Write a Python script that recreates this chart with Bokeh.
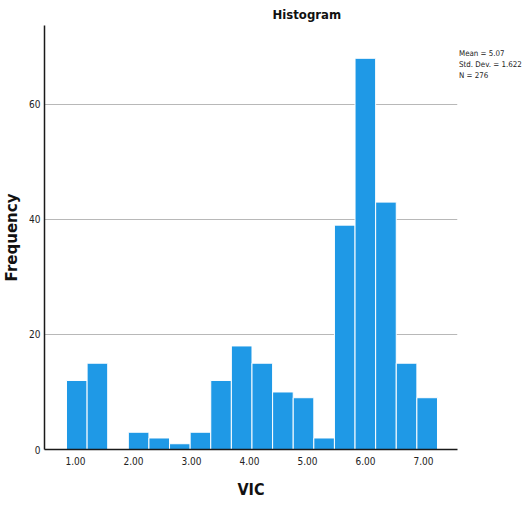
import numpy as np
from bokeh.plotting import figure
from bokeh.models import (FixedTicker, Title, Range1d, ColumnDataSource,
                          CustomJSTickFormatter, Legend, LegendItem)
from bokeh.core.properties import value
from bokeh.embed import file_html
from bokeh.resources import INLINE

# ---- data ----
counts = [12, 15, 0, 3, 2, 1, 3, 12, 18, 15, 10, 9, 2, 39, 68, 43, 15, 9]
bin_first_edge = 0.845
bin_last_edge = 7.241
x_ticks = [1, 2, 3, 4, 5, 6, 7]
y_ticks = [0, 20, 40, 60]
stats_lines = ["Mean = 5.07", "Std. Dev. = 1.622", "N = 276"]
title_text = "Histogram"
x_label = "VIC"
y_label = "Frequency"

edges = np.linspace(bin_first_edge, bin_last_edge, len(counts) + 1)
left = [edges[i] for i in range(len(counts)) if counts[i] > 0]
right = [edges[i + 1] for i in range(len(counts)) if counts[i] > 0]
top = [c for c in counts if c > 0]
src = ColumnDataSource(dict(left=left, right=right, top=top, bottom=[0] * len(top)))

COND = "DejaVu Sans Condensed"

p = figure(frame_width=413, frame_height=424, output_backend="svg", toolbar_location=None,
           x_range=Range1d(0.466, 7.586), y_range=Range1d(0, 73.7),
           min_border_left=36, min_border_right=0, min_border_top=19,
           min_border_bottom=0)
p.outline_line_color = None
p.background_fill_color = "white"
p.border_fill_color = "white"

p.quad(left="left", right="right", top="top", bottom="bottom", source=src,
       fill_color="#1f99e6", line_color="white", line_width=1)

# grid
p.xgrid.visible = False
p.ygrid.ticker = FixedTicker(ticks=[20, 40, 60])
p.ygrid.grid_line_color = "#b8b8b8"
p.ygrid.grid_line_width = 1.2

# axes
for ax in (p.xaxis[0], p.yaxis[0]):
    ax.major_tick_in = 0
    ax.major_tick_out = 0
    ax.minor_tick_in = 0
    ax.minor_tick_out = 0
    ax.axis_line_color = "#1a1a1a"
    ax.axis_line_width = 1.5
    ax.major_label_text_font = COND
    ax.major_label_text_font_size = "10px"
    ax.major_label_text_color = "#222222"

p.xaxis.ticker = FixedTicker(ticks=x_ticks)
p.xaxis.formatter = CustomJSTickFormatter(code="return tick.toFixed(2);")
p.xaxis.major_label_standoff = 7
p.xaxis.axis_label = x_label
p.xaxis.axis_label_text_font = COND
p.xaxis.axis_label_text_font_style = "bold"
p.xaxis.axis_label_text_font_size = "16px"
p.xaxis.axis_label_text_color = "#111111"
p.xaxis.axis_label_standoff = 12

p.yaxis.ticker = FixedTicker(ticks=y_ticks)
p.yaxis.major_label_standoff = 4
p.yaxis.axis_label = y_label
p.yaxis.axis_label_text_font = "DejaVu Sans"
p.yaxis.axis_label_text_font_style = "bold"
p.yaxis.axis_label_text_font_size = "15px"
p.yaxis.axis_label_text_color = "#111111"
p.yaxis.axis_label_standoff = 5

# title
t = Title(text=title_text, align="left", offset=228, text_font=COND,
          text_font_size="13px", text_font_style="bold", text_color="#111111",
          standoff=8)
p.add_layout(t, "above")

# stats block (legend without glyphs, in the right panel)
dummy = p.scatter(x=[], y=[], size=0, fill_alpha=0, line_alpha=0)
items = [LegendItem(label=value(s), renderers=[dummy]) for s in stats_lines]
leg = Legend(items=items, location=(0, 368), orientation="vertical",
             glyph_width=0, glyph_height=11, label_height=11, label_width=10,
             label_standoff=2, spacing=0, padding=0, margin=0,
             border_line_color=None, background_fill_alpha=0,
             label_text_font=COND, label_text_font_size="7.9px",
             label_text_color="#222222")
p.add_layout(leg, "right")

open("out.html", "w").write(file_html(p, INLINE))
